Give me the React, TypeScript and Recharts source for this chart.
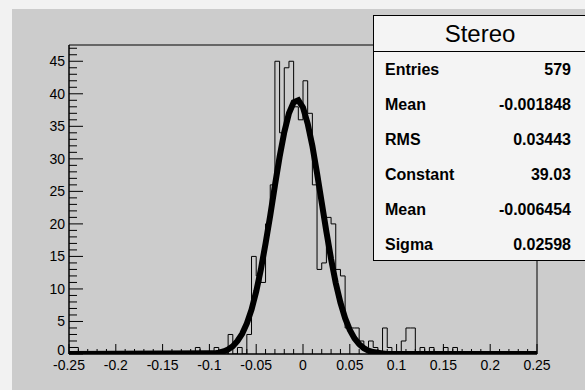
import { LineChart, Line, XAxis, YAxis, ReferenceArea } from "recharts"

// histogram: 100 bins of 0.005 from -0.25 to 0.25
const binCounts = [
  1, 1, 0, 0, 0, 0, 0, 0, 0, 0,
  0, 0, 0, 0, 0, 0, 0, 0, 0, 0,
  0, 0, 0, 0, 0, 0, 0, 1, 0, 0,
  0, 1, 0, 0, 3, 0, 1, 0, 3, 15,
  12, 11, 20, 26, 45, 34, 44, 45, 38, 36,
  42, 37, 26, 13, 14, 21, 20, 13, 12, 4,
  4, 4, 2, 1, 2, 1, 0, 4, 1, 0,
  0, 2, 4, 4, 0, 1, 0, 1, 0, 0,
  1, 0, 1, 0, 0, 0, 0, 0, 0, 0,
  0, 0, 0, 0, 0, 0, 0, 0, 0, 0,
]
const binLow = -0.25
const binWidth = 0.005

// gaussian fit curve
const fitX = [
  -0.25, -0.1, -0.095, -0.09, -0.085, -0.08, -0.075, -0.07, -0.065, -0.06,
  -0.055, -0.05, -0.045, -0.04, -0.035, -0.03, -0.025, -0.02, -0.015, -0.01,
  -0.005, 0, 0.005, 0.01, 0.015, 0.02, 0.025, 0.03, 0.035, 0.04,
  0.045, 0.05, 0.055, 0.06, 0.065, 0.07, 0.075, 0.08, 0.085, 0.09, 0.25,
]
const fitY = [
  0, 0.1, 0.1, 0.2, 0.4, 0.7, 1.2, 2, 3.1, 4.7,
  6.8, 9.6, 13, 17, 21.3, 25.9, 30.3, 34.1, 37, 38.7,
  39, 37.9, 35.4, 32, 27.8, 23.3, 18.8, 14.6, 10.9, 7.9,
  5.5, 3.7, 2.4, 1.5, 0.9, 0.5, 0.3, 0.2, 0.1, 0, 0,
]

const xLabels = [-0.25, -0.2, -0.15, -0.1, -0.05, 0, 0.05, 0.1, 0.15, 0.2, 0.25]
const yLabels = [0, 5, 10, 15, 20, 25, 30, 35, 40, 45]

const statsTitle = "Stereo"
const statNames = ["Entries", "Mean", "RMS", "Constant", "Mean", "Sigma"]
const statValues = ["579", "-0.001848", "0.03443", "39.03", "-0.006454", "0.02598"]

const histData = binCounts.map((c, i) => ({ x: binLow + i * binWidth, y: c }))
histData.push({ x: binLow + binCounts.length * binWidth, y: binCounts[binCounts.length - 1] })
const fitData = fitX.map((x, i) => ({ x, y: fitY[i] }))

const xMinor = Array.from({ length: 51 }, (_, i) => Math.round((-0.25 + i * 0.01) * 1000) / 1000)
const yMinor = Array.from({ length: 48 }, (_, i) => i)

const font = "'Liberation Sans', Arial, Helvetica, sans-serif"

function XTick(props: any) {
  const { x, y, payload } = props
  const major = xLabels.some((t) => Math.abs(t - payload.value) < 1e-6)
  return (
    <g>
      <line x1={x} x2={x} y1={y} y2={y - (major ? 10 : 5)} stroke="#000" />
      {major && (
        <text x={x} y={y + 16} textAnchor="middle" fontSize={14} fontFamily={font} fill="#000">
          {String(payload.value)}
        </text>
      )}
    </g>
  )
}

function YTick(props: any) {
  const { x, y, payload } = props
  const major = yLabels.includes(payload.value)
  // the zero label sits a bit higher so it clears the x labels
  const dy = payload.value === 0 ? 1 : 5
  return (
    <g>
      <line x1={x} x2={x + (major ? 14 : 8)} y1={y} y2={y} stroke="#000" />
      {major && (
        <text x={x - 4} y={y + dy} textAnchor="end" fontSize={14} fontFamily={font} fill="#000">
          {payload.value}
        </text>
      )}
    </g>
  )
}

export default function App() {
  return (
    <div style={{ position: "absolute", left: 0, top: 0, width: 585, height: 390, background: "#f2f2f2", overflow: "hidden" }}>
      <div style={{ position: "absolute", left: 12, top: 9, width: 573, height: 381, background: "#cccccc" }} />
      <div style={{ position: "absolute", left: 0, top: 0 }}>
        <LineChart width={585} height={390} margin={{ top: 45, right: 48, left: 29, bottom: 6 }}>
          <XAxis
            dataKey="x"
            type="number"
            domain={[-0.25, 0.25]}
            ticks={xMinor}
            interval={0}
            tickSize={0}
            tickMargin={0}
            height={30}
            axisLine={{ stroke: "#000" }}
            tick={<XTick />}
            allowDataOverflow
          />
          <YAxis
            type="number"
            domain={[0, 47.5]}
            ticks={yMinor}
            interval={0}
            tickSize={0}
            tickMargin={0}
            width={40}
            axisLine={{ stroke: "#000" }}
            tick={<YTick />}
            allowDataOverflow
          />
          <ReferenceArea x1={-0.25} x2={0.25} y1={0} y2={47.5} fill="none" stroke="#000" strokeWidth={1} ifOverflow="visible" />
          <Line data={histData} dataKey="y" type="stepAfter" stroke="#000" strokeWidth={1} dot={false} isAnimationActive={false} />
          <Line data={fitData} dataKey="y" type="linear" stroke="#000" strokeWidth={6} dot={false} isAnimationActive={false} />
        </LineChart>
      </div>
      <div
        style={{
          position: "absolute",
          left: 373,
          top: 15,
          width: 220,
          height: 246,
          background: "#f4f4f4",
          border: "1px solid #000",
          fontFamily: font,
          color: "#000",
          boxSizing: "border-box",
        }}
      >
        <div style={{ height: 35, borderBottom: "1px solid #000", textAlign: "center", fontSize: 24, lineHeight: "35px", width: 212 }}>
          {statsTitle}
        </div>
        {statNames.map((n, i) => (
          <div key={i} style={{ display: "flex", justifyContent: "space-between", width: 186, height: 35, lineHeight: "35px", paddingLeft: 11, fontSize: 16, fontWeight: "bold" }}>
            <span>{n}</span>
            <span>{statValues[i]}</span>
          </div>
        ))}
      </div>
    </div>
  )
}
